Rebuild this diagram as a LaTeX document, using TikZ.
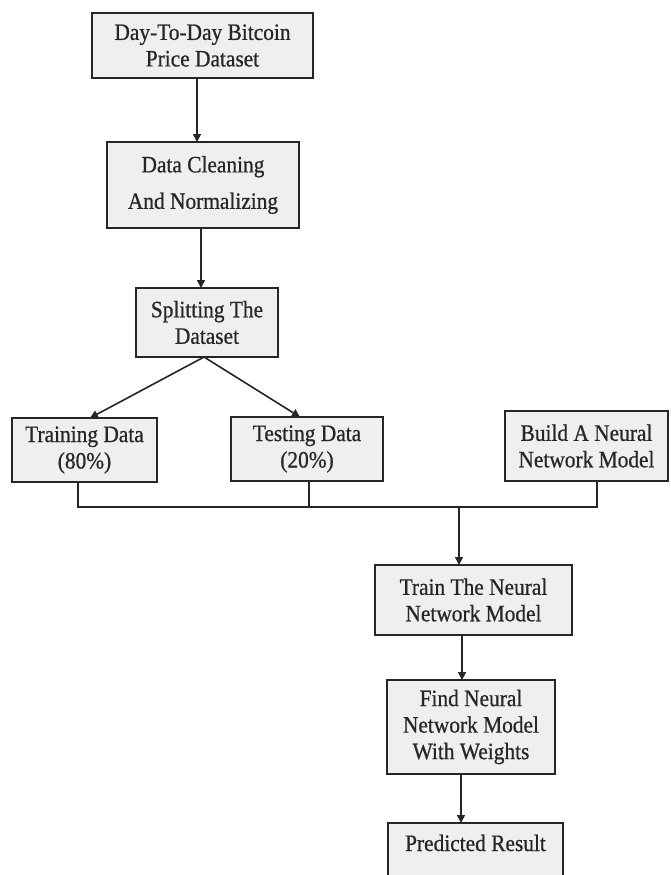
\documentclass[tikz,border=0pt]{standalone}
\usepackage{fontspec}
\setmainfont{Liberation Serif}[FakeStretch=0.91,FakeBold=0.7]
\usetikzlibrary{arrows.meta}
\definecolor{boxfill}{HTML}{EFEFEF}
\definecolor{ink}{HTML}{262626}
\begin{document}
\begin{tikzpicture}[x=1pt,y=-1pt,
  box/.style={draw=ink, line width=1.8pt, fill=boxfill, inner sep=0pt, outer sep=0pt,
    align=center, text=ink, font=\fontsize{23.5}{26.5}\selectfont},
  conn/.style={draw=ink, line width=1.6pt},
  arr/.style={conn, -{Triangle[length=8pt,width=8pt]}}]
\useasboundingbox (0,0) rectangle (670,875);
% boxes
\node[box, minimum width=221pt, minimum height=65pt] (b1) at (202.5,45.5) {Day-To-Day Bitcoin\\Price Dataset};
\node[box, minimum width=192pt, minimum height=86pt] (b2) at (203,185) {Data Cleaning\\[10pt]And Normalizing};
\node[box, minimum width=142pt, minimum height=69pt] (b3) at (207,322.5) {Splitting The\\Dataset};
\node[box, minimum width=145pt, minimum height=64pt] (tr) at (84.5,450) {Training Data\\(80\%)};
\node[box, minimum width=152pt, minimum height=64pt] (te) at (307,449) {Testing Data\\(20\%)};
\node[box, minimum width=163pt, minimum height=70pt] (bu) at (586.5,446) {Build A Neural\\Network Model};
\node[box, minimum width=197pt, minimum height=70pt] (tn) at (473.5,600) {Train The Neural\\Network Model};
\node[box, minimum width=168pt, minimum height=94pt] (fd) at (471,727) {Find Neural\\Network Model\\With Weights};
\node[box, anchor=north, minimum width=175pt, text height=28pt, text depth=70pt] (pr) at (475.5,823) {Predicted Result};
% connectors
\draw[arr] ([xshift=-5.5pt]b1.south) -- ([xshift=-6pt]b2.north);
\draw[arr] ([xshift=-2pt]b2.south) -- ([xshift=-6pt]b3.north);
\draw[arr] ([xshift=-3pt]b3.south) -- ([xshift=5.5pt]tr.north);
\draw[arr] ([xshift=-3pt]b3.south) -- ([xshift=-7pt]te.north);
\coordinate (busL) at (78,507);
\coordinate (busT) at (309,507);
\coordinate (busM) at (459,507);
\coordinate (busR) at (597,507);
\draw[conn, line join=miter] ([xshift=-6.5pt]tr.south) -- (busL) -- (busR) -- ([xshift=10.5pt]bu.south);
\draw[conn] ([xshift=2pt]te.south) -- (busT);
\draw[arr] (busM) -- ([xshift=-14.5pt]tn.north);
\draw[arr] ([xshift=-11.5pt]tn.south) -- ([xshift=-9pt]fd.north);
\draw[arr] ([xshift=-10pt]fd.south) -- ([xshift=-14.5pt]pr.north);
\end{tikzpicture}
\end{document}
